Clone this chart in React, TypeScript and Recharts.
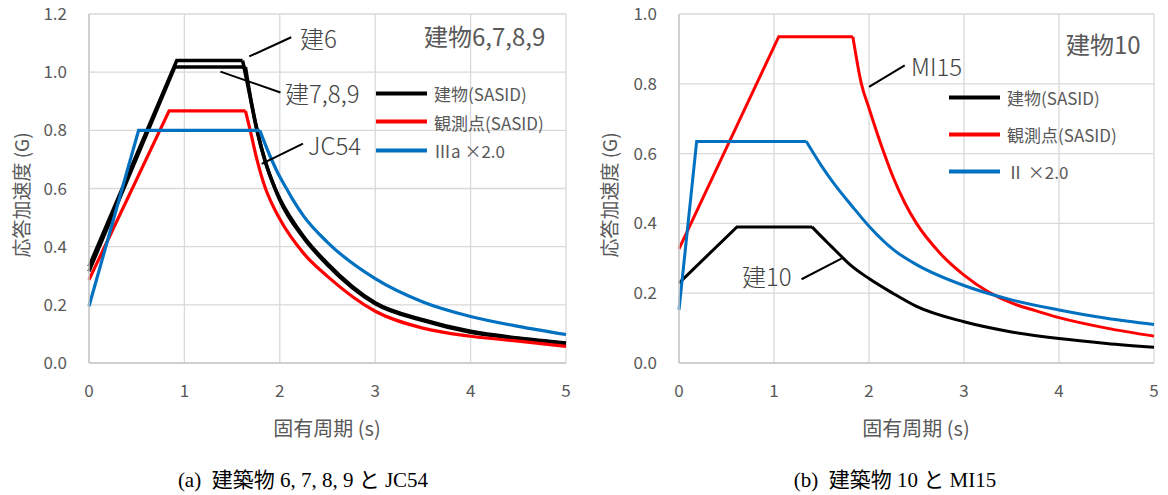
import React from 'react';
import { CartesianGrid, Line, LineChart, ReferenceLine, XAxis, YAxis } from 'recharts';

// 建物6,7,8,9 と JC54 (first three points: ramp and plateau, the rest: decaying tail)
const tBld6 = [0, 0.92, 1.61, 1.68, 1.76, 1.85, 1.95, 2.0, 2.25, 2.5, 3.0, 3.5, 4.0, 4.5, 5.0];
const aBld6 = [0.332, 1.04, 1.04, 0.93, 0.8, 0.69, 0.6, 0.565, 0.435, 0.342, 0.207, 0.149, 0.109, 0.086, 0.069];
const tBld789 = [0, 0.9, 1.64, 1.7, 1.77, 1.85, 1.95, 2.0, 2.25, 2.5, 3.0, 3.5, 4.0, 4.5, 5.0];
const aBld789 = [0.315, 1.018, 1.018, 0.9, 0.79, 0.69, 0.6, 0.56, 0.43, 0.337, 0.204, 0.146, 0.106, 0.084, 0.067];
const tJC54 = [0, 0.84, 1.64, 1.69, 1.76, 1.85, 1.9, 2.0, 2.25, 2.5, 3.0, 3.5, 4.0, 4.5, 5.0];
const aJC54 = [0.286, 0.867, 0.867, 0.8, 0.7, 0.6, 0.56, 0.495, 0.377, 0.298, 0.178, 0.12, 0.092, 0.075, 0.057];
const tIIIa = [0, 0.52, 1.79, 1.9, 2.0, 2.07, 2.14, 2.25, 2.5, 3.0, 3.5, 4.0, 4.5, 5.0];
const aIIIa = [0.195, 0.8, 0.8, 0.71, 0.64, 0.6, 0.56, 0.505, 0.415, 0.29, 0.21, 0.16, 0.126, 0.098];

// 建物10 と MI15
const tBld10 = [0, 0.61, 1.4, 1.5, 1.6, 1.7, 1.8, 2.0, 2.25, 2.5, 3.0, 3.5, 4.0, 4.5, 5.0];
const aBld10 = [0.229, 0.39, 0.39, 0.362, 0.335, 0.308, 0.282, 0.242, 0.2, 0.162, 0.118, 0.089, 0.07, 0.056, 0.045];
const tMI15 = [0, 1.05, 1.83, 1.92, 2.0, 2.16, 2.25, 2.375, 2.5, 2.75, 3.0, 3.25, 3.5, 3.75, 4.0, 4.5, 5.0];
const aMI15 = [0.327, 0.935, 0.935, 0.8, 0.73, 0.6, 0.535, 0.46, 0.4, 0.314, 0.252, 0.205, 0.172, 0.15, 0.13, 0.1, 0.077];
const tII = [0, 0.186, 1.34, 1.5, 1.61, 1.82, 2.0, 2.27, 2.5, 3.0, 3.5, 4.0, 4.5, 5.0];
const aII = [0.152, 0.635, 0.635, 0.565, 0.522, 0.45, 0.392, 0.322, 0.282, 0.222, 0.181, 0.152, 0.128, 0.11];

const xTicks = [0, 1, 2, 3, 4, 5];
const yTicksL = [0, 0.2, 0.4, 0.6, 0.8, 1.0, 1.2];
const yTicksR = [0, 0.2, 0.4, 0.6, 0.8, 1.0];

const legendL = ['建物(SASID)', '観測点(SASID)', 'Ⅲa ×2.0'];
const legendR = ['建物(SASID)', '観測点(SASID)', 'Ⅱ ×2.0'];

const FONT = '"Noto Sans CJK JP", "Noto Sans", sans-serif';
const GRAY = '#595959';
const BLACK = '#000000';
const RED = '#FF0000';
const BLUE = '#0070C0';

const zip = (t: number[], a: number[]) => t.map((x, i) => ({ t: x, v: a[i] }));

function Axes({ yTicks, yMax }: { yTicks: number[]; yMax: number }) {
  return [
    <CartesianGrid key="g" stroke="#d9d9d9" strokeWidth={1.3} />,
    <XAxis
      key="x"
      type="number"
      dataKey="t"
      domain={[0, 5]}
      ticks={xTicks}
      height={57}
      tickSize={0}
      tickMargin={22}
      axisLine={{ stroke: '#c8c8c8', strokeWidth: 1.5 }}
      tick={{ fill: GRAY, fontSize: 17, fontFamily: FONT }}
    />,
    <YAxis
      key="y"
      type="number"
      domain={[0, yMax]}
      ticks={yTicks}
      width={89}
      tickSize={0}
      tickMargin={22}
      axisLine={{ stroke: '#c8c8c8', strokeWidth: 1.5 }}
      tick={{ fill: GRAY, fontSize: 17, fontFamily: FONT }}
      tickFormatter={(v: number) => v.toFixed(1)}
    />,
  ];
}

// ramp + plateau drawn straight, decaying tail drawn smooth
function Spectrum(key: string, t: number[], a: number[], color: string, width: number) {
  const pts = zip(t, a);
  return [
    <Line key={key + 'r'} data={pts.slice(0, 3)} dataKey="v" type="linear" stroke={color} strokeWidth={width} dot={false} isAnimationActive={false} />,
    <Line key={key + 't'} data={pts.slice(2)} dataKey="v" type="monotone" stroke={color} strokeWidth={width} dot={false} isAnimationActive={false} />,
  ];
}

function Leader(key: string, p: number[]) {
  return (
    <ReferenceLine
      key={key}
      segment={[
        { x: p[0], y: p[1] },
        { x: p[2], y: p[3] },
      ]}
      stroke="#000"
      strokeWidth={2}
      ifOverflow="visible"
    />
  );
}

const abs = (left: number, top: number, extra: React.CSSProperties = {}): React.CSSProperties => ({
  position: 'absolute',
  left,
  top,
  transform: 'translateY(-50%)',
  whiteSpace: 'pre',
  fontFamily: FONT,
  ...extra,
});

function Legend({ x, y, gap, labels }: { x: number; y: number; gap: number; labels: string[] }) {
  const colors = [BLACK, RED, BLUE];
  return (
    <>
      {labels.map((s, i) => (
        <div key={s} style={abs(x, y + i * gap, { display: 'flex', alignItems: 'center' })}>
          <div style={{ width: 51, height: 4, background: colors[i], marginRight: 7 }} />
          <span style={{ fontSize: 17, color: GRAY }}>{s}</span>
        </div>
      ))}
    </>
  );
}

export default function App() {
  const note = { fontSize: 24, color: '#444', fontWeight: 300 };
  const caption: React.CSSProperties = {
    position: 'absolute',
    top: 478,
    transform: 'translate(-50%, -50%)',
    whiteSpace: 'pre',
    fontSize: 21,
    color: '#000',
    fontFamily: '"Liberation Serif", "Noto Sans CJK JP", serif',
  };
  const xTitle: React.CSSProperties = {
    position: 'absolute',
    top: 427,
    transform: 'translate(-50%, -50%)',
    fontSize: 20,
    color: GRAY,
    fontFamily: FONT,
    whiteSpace: 'pre',
  };
  const yTitle: React.CSSProperties = {
    position: 'absolute',
    top: 195,
    transform: 'translate(-50%, -50%) rotate(-90deg)',
    fontSize: 19,
    color: GRAY,
    fontFamily: FONT,
    whiteSpace: 'pre',
  };

  return (
    <div style={{ position: 'absolute', left: 0, top: 0, width: 1168, height: 495, background: '#fff', overflow: 'hidden' }}>
      <div style={{ position: 'absolute', left: 0, top: 0 }}>
        <LineChart width={590} height={420} margin={{ top: 14, right: 24, bottom: 0, left: 0 }}>
          {Axes({ yTicks: yTicksL, yMax: 1.2 })}
          {Spectrum('b6', tBld6, aBld6, BLACK, 3.5)}
          {Spectrum('b789', tBld789, aBld789, BLACK, 3.5)}
          {Spectrum('jc', tJC54, aJC54, RED, 3.2)}
          {Spectrum('iiia', tIIIa, aIIIa, BLUE, 3.2)}
          {Leader('l6', [1.68, 1.054, 2.12, 1.12])}
          {Leader('l789', [1.378, 1.002, 2.007, 0.93])}
          {Leader('ljc', [1.81, 0.685, 2.243, 0.754])}
        </LineChart>
      </div>
      <div style={{ position: 'absolute', left: 590, top: 0 }}>
        <LineChart width={578} height={420} margin={{ top: 14, right: 14, bottom: 0, left: 0 }}>
          {Axes({ yTicks: yTicksR, yMax: 1.0 })}
          {Spectrum('b10', tBld10, aBld10, BLACK, 3)}
          {Spectrum('mi', tMI15, aMI15, RED, 3)}
          {Spectrum('ii', tII, aII, BLUE, 3)}
          {Leader('lmi', [2.0, 0.791, 2.376, 0.853])}
          {Leader('l10', [1.29, 0.24, 1.714, 0.3])}
        </LineChart>
      </div>

      <div style={abs(424, 35, { fontSize: 24, color: GRAY })}>建物6,7,8,9</div>
      <div style={abs(1066, 43, { fontSize: 24, color: GRAY })}>建物10</div>

      <div style={abs(300, 37, note)}>建6</div>
      <div style={abs(285, 92, note)}>建7,8,9</div>
      <div style={abs(308, 144, note)}>JC54</div>
      <div style={abs(911, 65, note)}>MI15</div>
      <div style={abs(742, 275, note)}>建10</div>

      <Legend x={376} y={93} gap={28.5} labels={legendL} />
      <Legend x={949} y={97} gap={37} labels={legendR} />

      <div style={{ ...yTitle, left: 20 }}>応答加速度 (G)</div>
      <div style={{ ...yTitle, left: 608 }}>応答加速度 (G)</div>
      <div style={{ ...xTitle, left: 327 }}>固有周期 (s)</div>
      <div style={{ ...xTitle, left: 916 }}>固有周期 (s)</div>

      <div style={{ ...caption, left: 303 }}>{'(a)  建築物 6, 7, 8, 9 と JC54'}</div>
      <div style={{ ...caption, left: 895 }}>{'(b)  建築物 10 と MI15'}</div>
    </div>
  );
}
